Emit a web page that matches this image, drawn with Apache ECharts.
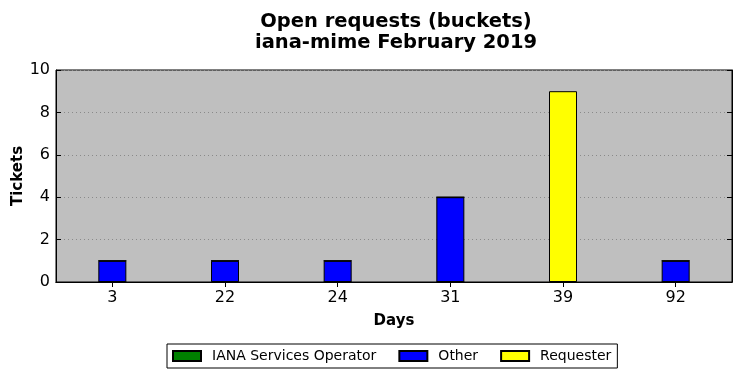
<!DOCTYPE html>
<html><head><meta charset="utf-8">
<script src="https://cdn.jsdelivr.net/npm/echarts@6/dist/echarts.min.js"></script>
<style>html,body{margin:0;padding:0;background:#fff}#c{width:741px;height:378px}</style>
</head><body><div id="c"></div>
<script>
const categories = ['3', '22', '24', '31', '39', '92'];
const ianaOperator = [0, 0, 0, 0, 0, 0];
const other = [1, 1, 1, 4, 0, 1];
const requester = [0, 0, 0, 0, 9, 0];
const yTicks = [0, 2, 4, 6, 8, 10];

const chart = echarts.init(document.getElementById('c'), null, {renderer: 'canvas'});
const font = 'DejaVu Sans';
const barCommon = {type: 'bar', stack: 'total', barWidth: 28};
chart.setOption({
  animation: false,
  textStyle: {fontFamily: font},
  title: {text: 'Open requests (buckets)\niana-mime February 2019', left: 391, top: 6, textAlign: 'center',
    textStyle: {fontFamily: font, fontSize: 19.5, fontWeight: 'bold', color: '#000', lineHeight: 21}},
  grid: {left: 56, right: 9, top: 70, bottom: 96, show: true, backgroundColor: '#bfbfbf',
    borderColor: '#000', borderWidth: 1, containLabel: false, outerBoundsMode: 'none'},
  legend: {bottom: 10, left: 167, itemWidth: 28, itemHeight: 10, itemGap: 22, icon: 'rect',
    borderColor: '#000', borderWidth: 1, padding: [5, 6, 5, 5], borderRadius: 0,
    textStyle: {fontFamily: font, fontSize: 14, color: '#000', padding: [0, 0, 0, 6]},
    data: ['IANA Services Operator', 'Other', 'Requester']},
  xAxis: [
    {type: 'category', data: categories, position: 'bottom', name: 'Days', nameLocation: 'middle', nameGap: 32,
     nameMoveOverlap: false,
     nameTextStyle: {fontFamily: font, fontSize: 15, fontWeight: 'bold', color: '#000'},
     axisLine: {show: true, lineStyle: {color: '#000'}},
     axisTick: {show: true, inside: true, alignWithLabel: true, length: 5, lineStyle: {color: '#000'}},
     axisLabel: {fontFamily: font, fontSize: 16, color: '#000', margin: 8}, splitLine: {show: false}},
    {type: 'category', data: categories, position: 'top',
     axisLine: {show: true, lineStyle: {color: '#000'}},
     axisTick: {show: true, inside: true, alignWithLabel: true, length: 5, lineStyle: {color: '#000'}},
     axisLabel: {show: false}, splitLine: {show: false}}
  ],
  yAxis: [
    {type: 'value', min: yTicks[0], max: yTicks[yTicks.length - 1], interval: 2, name: 'Tickets',
     nameLocation: 'middle', nameGap: 30, nameRotate: 90, nameMoveOverlap: false,
     nameTextStyle: {fontFamily: font, fontSize: 15, fontWeight: 'bold', color: '#000'},
     axisLine: {show: true, lineStyle: {color: '#000'}},
     axisTick: {show: true, inside: true, length: 5, lineStyle: {color: '#000'}},
     axisLabel: {fontFamily: font, fontSize: 16, color: '#000', margin: 6},
     splitLine: {show: true, lineStyle: {color: '#8a8a8a', type: [1, 3], width: 1}}},
    {type: 'value', min: yTicks[0], max: yTicks[yTicks.length - 1], interval: 2, position: 'right',
     axisLine: {show: true, lineStyle: {color: '#000'}},
     axisTick: {show: true, inside: true, length: 5, lineStyle: {color: '#000'}},
     axisLabel: {show: false}, splitLine: {show: false}}
  ],
  series: [
    Object.assign({}, barCommon, {name: 'IANA Services Operator', data: ianaOperator,
      itemStyle: {color: '#008000', borderColor: '#000', borderWidth: 1}}),
    Object.assign({}, barCommon, {name: 'Other', data: other,
      itemStyle: {color: '#0000ff', borderColor: '#000', borderWidth: 1}}),
    Object.assign({}, barCommon, {name: 'Requester', data: requester,
      itemStyle: {color: '#ffff00', borderColor: '#000', borderWidth: 1}})
  ]
});
</script></body></html>
